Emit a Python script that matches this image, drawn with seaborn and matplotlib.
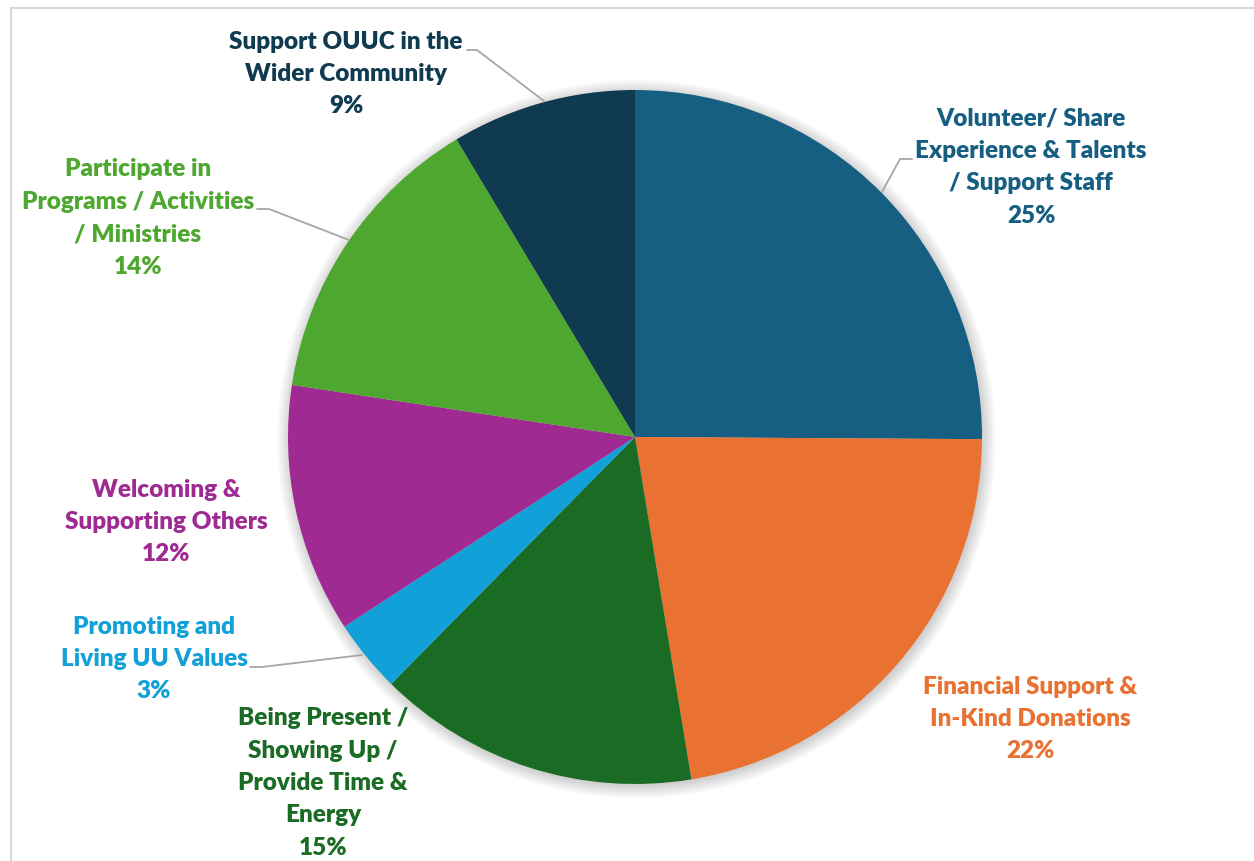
import numpy as np
import matplotlib
matplotlib.use("Agg")
import matplotlib.pyplot as plt
import seaborn as sns

# Slice data (clockwise from 12 o'clock)
categories = [
    "Volunteer/ Share\nExperience & Talents\n/ Support Staff",
    "Financial Support &\nIn-Kind Donations",
    "Being Present /\nShowing Up /\nProvide Time &\nEnergy",
    "Promoting and\nLiving UU Values",
    "Welcoming &\nSupporting Others",
    "Participate in\nPrograms / Activities\n/ Ministries",
    "Support OUUC in the\nWider Community",
]
shares = [25.1, 22.3, 15.0, 3.4, 11.6, 14.0, 8.6]
colors = ["#175f82", "#e97132", "#1a6b24", "#12a0d8", "#9e2a92", "#4ea72e", "#0f3a4f"]

sns.set_theme(style="white")
plt.rcParams["font.family"] = ["Lato", "DejaVu Sans"]

W, H = 1254, 861
CX, CY, R = 635, 437, 347


def px(x, y):
    # pixel position -> data coords (pie radius = 1)
    return (x - CX) / R, (CY - y) / R


fig = plt.figure(figsize=(W / 100, H / 100), dpi=100)
ax = fig.add_axes([0, 0, 1, 1])

# chart area border (cropped at right / bottom)
fig.patches.append(plt.Rectangle((11 / W, -0.1), 1.2, 1 - 8 / H + 0.1,
                                 transform=fig.transFigure, fill=False,
                                 edgecolor="#d9d9d9", linewidth=1.5))

# soft shadow behind the pie
for k in range(8):
    ax.add_patch(plt.Circle((0.004, -0.006), 1.0 + k * 0.005, color="black",
                            alpha=0.025, lw=0, zorder=0))

ax.pie(shares, colors=colors, startangle=90, counterclock=False, radius=1.0,
       wedgeprops=dict(linewidth=0, zorder=1))

# pie() resets the limits, so set them afterwards
ax.set_xlim(-CX / R, (W - CX) / R)
ax.set_ylim(-(H - CY) / R, CY / R)
ax.set_aspect("equal")
ax.axis("off")

# label positions (text block centers) and leader lines, in pixels
label_pos = [(1031, 167), (1030, 719), (323, 783), (154, 659),
             (166, 522), (138, 218), (346, 74)]
leaders = {
    0: [(912, 159), (900, 159), (882, 192)],
    3: [(250, 667), (262, 667), (362, 655)],
    5: [(257, 209), (269, 209), (349, 240)],
    6: [(467, 50), (477, 50), (544, 101)],
}

for i, (name, val) in enumerate(zip(categories, shares)):
    x, y = px(*label_pos[i])
    ax.text(x, y, f"{name}\n{val:.0f}%", ha="center", va="center",
            fontsize=17.5, fontweight="heavy", color=colors[i],
            linespacing=1.58, zorder=5)

for i, pts in leaders.items():
    xs, ys = zip(*[px(a, b) for a, b in pts])
    ax.plot(xs, ys, color="#a6a6a6", linewidth=1.3, zorder=4)

fig.savefig("out.png", dpi=100)
